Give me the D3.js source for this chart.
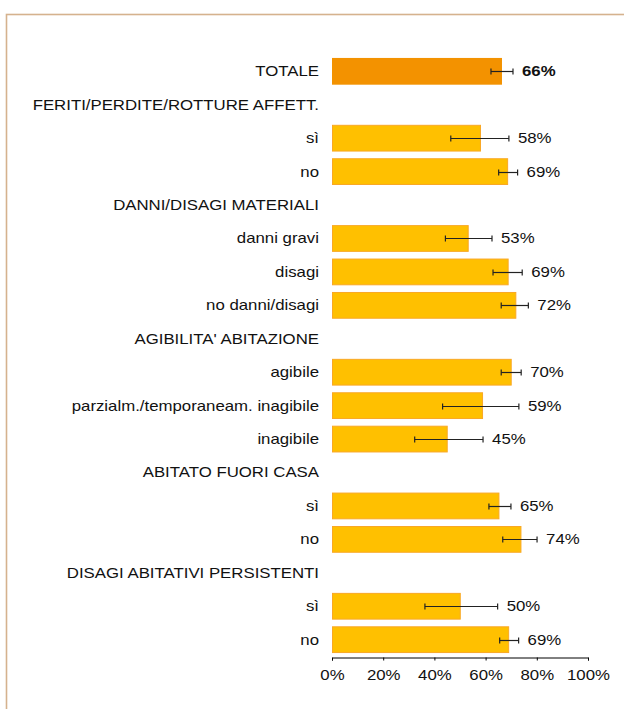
<!DOCTYPE html>
<html>
<head>
<meta charset="utf-8">
<script src="https://cdn.jsdelivr.net/npm/d3@7"></script>
<style>
  html, body { margin: 0; padding: 0; background: #fff; }
  svg { display: block; }
  text { font-family: "Liberation Sans", Arial, sans-serif; }
</style>
</head>
<body>
<svg id="chart" width="624" height="709"></svg>
<script>
// Row labels, top to bottom (group headings carry no value)
const categories = [
  "TOTALE",
  "FERITI/PERDITE/ROTTURE AFFETT.",
  "sì", "no",
  "DANNI/DISAGI MATERIALI",
  "danni gravi", "disagi", "no danni/disagi",
  "AGIBILITA' ABITAZIONE",
  "agibile", "parzialm./temporaneam. inagibile", "inagibile",
  "ABITATO FUORI CASA",
  "sì", "no",
  "DISAGI ABITATIVI PERSISTENTI",
  "sì", "no"
];
// Share of respondents (null for headings)
const values = [
  0.664,
  null, 0.582, 0.688,
  null, 0.534, 0.69, 0.72,
  null, 0.702, 0.59, 0.452,
  null, 0.654, 0.74,
  null, 0.503, 0.692
];
// Confidence interval bounds
const errLow = [
  0.621,
  null, 0.464, 0.651,
  null, 0.443, 0.629, 0.661,
  null, 0.661, 0.432, 0.323,
  null, 0.613, 0.667,
  null, 0.363, 0.655
];
const errHigh = [
  0.707,
  null, 0.691, 0.725,
  null, 0.625, 0.743, 0.767,
  null, 0.739, 0.730, 0.590,
  null, 0.699, 0.801,
  null, 0.647, 0.729
];
const xTicks = [0, 0.2, 0.4, 0.6, 0.8, 1];

const rows = categories.map((c, i) => ({
  i, label: c, value: values[i], lo: errLow[i], hi: errHigh[i], total: i === 0
}));

// text is drawn slightly widened
const STRETCH = 1.2;
const FONT = 14;

const svg = d3.select("#chart");

// outer frame
svg.append("rect")
  .attr("x", 6.5).attr("y", 14.5)
  .attr("width", 720).attr("height", 800)
  .attr("fill", "none")
  .attr("stroke", "#d5b28e")
  .attr("stroke-width", 1.6);

const x = d3.scaleLinear().domain([0, 1]).range([332, 588]);
const y = d3.scaleBand()
  .domain(rows.map(d => d.i))
  .range([54.6, 656.4])
  .paddingInner(0.2)
  .paddingOuter(0.1);
const cy = d => y(d.i) + y.bandwidth() / 2;

// row labels
svg.append("g").selectAll("text")
  .data(rows).join("text")
  .attr("transform", d => `translate(319,${cy(d)}) scale(${STRETCH},1)`)
  .attr("dy", "0.35em")
  .attr("text-anchor", "end")
  .attr("font-size", FONT)
  .attr("fill", "#111")
  .text(d => d.label);

const barRows = rows.filter(d => d.value != null);

// bars
svg.append("g").selectAll("rect")
  .data(barRows).join("rect")
  .attr("x", d => x(0) + (d.total ? 0 : 0.5))
  .attr("y", d => y(d.i) + (d.total ? 0 : 0.5))
  .attr("width", d => x(d.value) - x(0) - (d.total ? 0 : 1))
  .attr("height", d => y.bandwidth() - (d.total ? 0 : 1))
  .attr("fill", d => d.total ? "#f39200" : "#ffc000")
  .attr("stroke", d => d.total ? "none" : "#f9a825")
  .attr("stroke-width", 1);

// error bars
const eb = svg.append("g")
  .attr("stroke", "#222")
  .attr("stroke-width", 1.2)
  .attr("fill", "none");
barRows.forEach(d => {
  const yy = Math.round(cy(d)) + 0.5;
  eb.append("line")
    .attr("x1", x(d.lo)).attr("x2", x(d.hi))
    .attr("y1", yy).attr("y2", yy);
  [d.lo, d.hi].forEach(v => {
    eb.append("line")
      .attr("x1", x(v)).attr("x2", x(v))
      .attr("y1", yy - 3).attr("y2", yy + 3);
  });
});

// value labels
const fmt = d3.format(".0%");
svg.append("g").selectAll("text")
  .data(barRows).join("text")
  .attr("transform", d => `translate(${x(d.hi) + 9},${cy(d)}) scale(${STRETCH},1)`)
  .attr("dy", "0.35em")
  .attr("font-size", FONT)
  .attr("font-weight", d => d.total ? "bold" : "normal")
  .attr("fill", "#111")
  .text(d => fmt(d.value));

// x axis
const axis = svg.append("g")
  .attr("transform", "translate(0,657.5)")
  .call(d3.axisBottom(x)
    .tickValues(xTicks)
    .tickFormat(d3.format(".0%"))
    .tickSizeInner(3)
    .tickSizeOuter(3)
    .tickPadding(10));
axis.select(".domain").attr("stroke", "#000");
axis.selectAll(".tick line").attr("stroke", "#000");
axis.selectAll(".tick text")
  .attr("font-size", FONT)
  .attr("font-family", "\"Liberation Sans\", Arial, sans-serif")
  .attr("fill", "#111")
  .attr("transform", `scale(${STRETCH},1)`);
</script>
</body>
</html>
